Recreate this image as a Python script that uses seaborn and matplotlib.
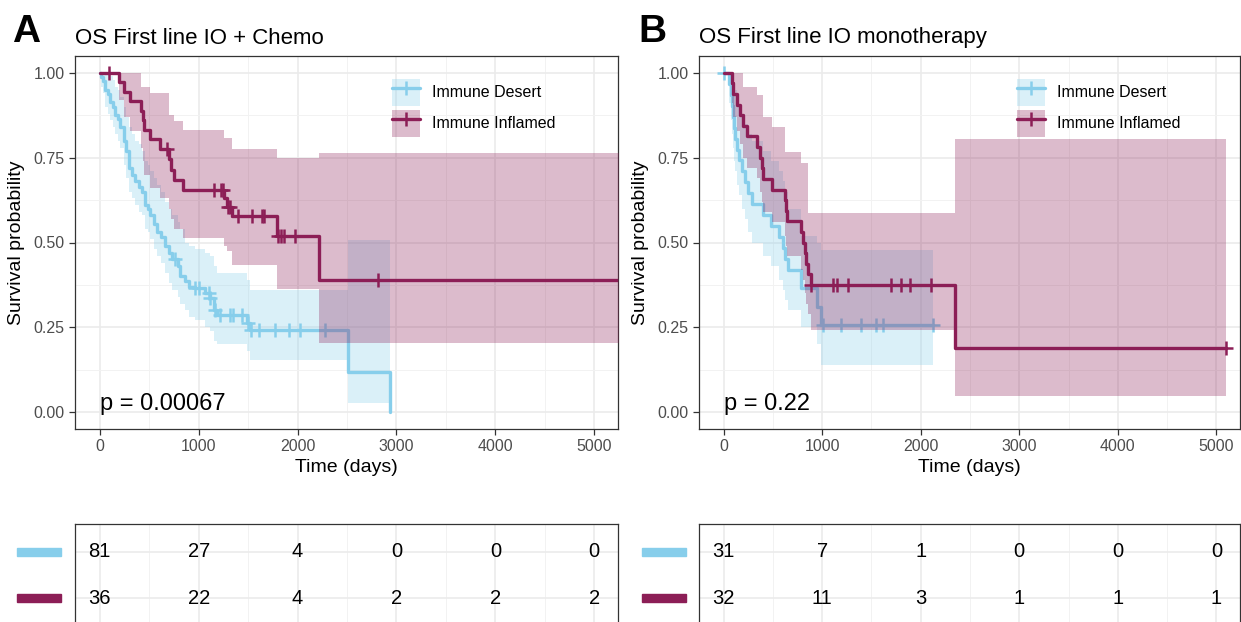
import numpy as np
import matplotlib
matplotlib.use("Agg")
import matplotlib.pyplot as plt
import matplotlib.transforms as mtransforms
from matplotlib.patches import Patch, Rectangle
from matplotlib.lines import Line2D
import seaborn as sns

sns.set_theme(style="white")
plt.rcParams['font.family'] = ['Liberation Sans', 'DejaVu Sans']
plt.rcParams['text.color'] = 'black'
plt.rcParams['axes.labelcolor'] = 'black'

c_des = '#87CEEB'
c_inf = '#8C1E56'
groups = ['Immune Desert', 'Immune Inflamed']

# ---- Panel A : OS First line IO + Chemo ----
a_des_t = [0, 17, 35, 58, 80, 108, 130, 158, 185, 209, 243, 270, 293, 330, 361, 395, 428, 461, 490, 512,
           545, 579, 620, 663, 700, 731, 790, 815, 860, 899, 967, 1068, 1118, 1152, 1186, 1488, 1522, 2515, 2936]
a_des_s = [1.0, .988, .975, .951, .938, .914, .901, .877, .864, .840, .800, .770, .720, .700, .680, .665, .650, .610, .598, .580,
           .556, .530, .515, .490, .470, .450, .430, .400, .385, .370, .366, .351, .336, .302, .287, .262, .243, .117, 0.0]
a_des_hi = [1.0, 1.0, 1.0, 1.0, 1.0, .99, .98, .96, .95, .93, .90, .87, .84, .82, .80, .79, .77, .74, .73, .71,
            .69, .67, .65, .62, .60, .58, .56, .54, .50, .49, .48, .47, .46, .43, .41, .39, .36, .508, .508]
a_des_lo = [1.0, .96, .94, .90, .88, .86, .84, .82, .80, .78, .73, .69, .65, .63, .61, .59, .58, .54, .53, .51,
            .48, .46, .44, .41, .38, .36, .34, .32, .30, .28, .27, .25, .24, .21, .20, .18, .154, .028, .028]
a_des_end = 2936
a_des_cens = [765, 967, 1000, 1101, 1118, 1169, 1219, 1320, 1344, 1438, 1499, 1530, 1606, 1775, 1910, 2027, 2280]

a_inf_t = [0, 192, 243, 310, 420, 440, 450, 512, 613, 700, 720, 750, 840, 1253, 1287, 1337, 1791, 2212]
a_inf_s = [1.0, .972, .944, .917, .889, .861, .833, .806, .776, .745, .714, .684, .655, .631, .606, .579, .520, .390]
a_inf_hi = [1.0, 1.0, 1.0, 1.0, .96, .96, .96, .94, .94, .877, .877, .857, .832, .808, .808, .776, .749, .764]
a_inf_lo = [1.0, .92, .87, .83, .78, .74, .70, .66, .63, .60, .57, .54, .513, .49, .474, .434, .363, .203]
a_inf_end = 5600
a_inf_cens = [98, 680, 1152, 1230, 1242, 1300, 1320, 1398, 1539, 1640, 1657, 1802, 1830, 1860, 1977, 2812]

a_pval = 'p = 0.00067'
a_risk_des = [81, 27, 4, 0, 0, 0]
a_risk_inf = [36, 22, 4, 2, 2, 2]

# ---- Panel B : OS First line IO monotherapy ----
b_des_t = [0, 50, 70, 85, 97, 108, 120, 135, 155, 190, 215, 245, 290, 400, 480, 560, 600, 625, 651, 786, 950, 991]
b_des_s = [1.0, .968, .935, .903, .871, .839, .806, .774, .742, .710, .677, .645, .613, .581, .548, .516, .484, .452, .419, .366, .310, .256]
b_des_hi = [1.0, 1.0, 1.0, 1.0, .99, .97, .95, .93, .90, .88, .85, .82, .80, .77, .74, .71, .68, .65, .60, .52, .50, .479]
b_des_lo = [1.0, .91, .86, .82, .78, .74, .71, .67, .64, .60, .57, .53, .50, .46, .43, .39, .36, .33, .30, .25, .20, .14]
b_des_end = 2122
b_des_cens = [5, 1005, 1191, 1394, 1546, 1614, 2122]

b_inf_t = [0, 82, 99, 133, 167, 201, 235, 336, 370, 390, 403, 488, 623, 630, 640, 788, 803, 822, 837, 854, 888, 2343]
b_inf_s = [1.0, .969, .938, .906, .875, .844, .813, .781, .750, .719, .688, .656, .625, .594, .563, .531, .500, .469, .438, .406, .375, .1875]
b_inf_hi = [1.0, 1.0, 1.0, 1.0, 1.0, .96, .96, .935, .935, .935, .871, .842, .768, .768, .768, .734, .734, .734, .734, .586, .586, .805]
b_inf_lo = [1.0, .91, .87, .83, .79, .75, .72, .69, .65, .62, .59, .56, .52, .49, .46, .42, .39, .35, .32, .29, .243, .046]
b_inf_end = 5100
b_inf_cens = [888, 1108, 1152, 1260, 1701, 1796, 1887, 2107, 5100]

b_pval = 'p = 0.22'
b_risk_des = [31, 7, 1, 0, 0, 0]
b_risk_inf = [32, 11, 3, 1, 1, 1]

x_ticks = [0, 1000, 2000, 3000, 4000, 5000]
y_ticks = [0.0, 0.25, 0.5, 0.75, 1.0]


def km_curve(ax, t, s, lo, hi, t_end, cens, col, z):
    x = np.r_[t, t_end]
    ax.fill_between(x, np.r_[lo, lo[-1]], np.r_[hi, hi[-1]], step='post',
                    color=col, alpha=0.3, lw=0, zorder=z)
    sns.lineplot(x=x, y=np.r_[s, s[-1]], drawstyle='steps-post', color=col,
                 linewidth=2.4, estimator=None, sort=False, ax=ax, zorder=z + 1)
    yc = np.array(s)[np.searchsorted(t, cens, side='right') - 1]
    ax.plot(cens, yc, ls='none', marker='+', ms=10, mew=1.8, color=col, zorder=z + 1)


def grid_style(ax):
    ax.set_xlim(-250, 5240)
    ax.set_xticks(x_ticks)
    ax.set_xticks([500, 1500, 2500, 3500, 4500], minor=True)
    ax.grid(which='major', color='#EBEBEB', lw=1.2)
    ax.grid(which='minor', color='#F2F2F2', lw=0.7)
    ax.set_axisbelow(True)
    for sp in ax.spines.values():
        sp.set_visible(True)
        sp.set_color('#333333')
        sp.set_linewidth(0.9)
    ax.tick_params(which='minor', length=0)


def panel(ax, title, curves, pval, lx):
    for i, c in enumerate(curves):
        km_curve(ax, *c, z=2 + 2 * i)
    grid_style(ax)
    ax.set_ylim(-0.05, 1.05)
    ax.set_yticks(y_ticks)
    ax.set_yticks([0.125, 0.375, 0.625, 0.875], minor=True)
    ax.set_yticklabels(['%.2f' % v for v in y_ticks])
    ax.tick_params(which='major', length=4, width=0.9, color='#333333',
                   labelcolor='#4D4D4D', labelsize=11.5, bottom=True, left=True)
    ax.set_xlabel('Time (days)', fontsize=14, labelpad=3)
    ax.set_ylabel('Survival probability', fontsize=14, labelpad=6)
    ax.set_title(title, loc='left', fontsize=16, pad=9, color='black')
    ax.text(0, 0.005, pval, fontsize=17, ha='left', va='baseline')
    handles = [(Patch(facecolor=col, alpha=0.3, edgecolor='none'),
                Line2D([], [], color=col, lw=2.4, marker='+', ms=10, mew=1.8))
               for col in (c_des, c_inf)]
    ax.legend(handles, groups, loc='upper left', bbox_to_anchor=(lx, 0.938),
              frameon=False, fontsize=11.5, handlelength=1.75, handleheight=2.2,
              handletextpad=0.75, labelspacing=0.25, borderpad=0, borderaxespad=0)


def risk_table(fig, ax, left_px, rows):
    grid_style(ax)
    ax.set_ylim(0.4, 2.6)
    ax.set_yticks([1, 2])
    ax.set_xticklabels([])
    ax.set_yticklabels([])
    ax.tick_params(which='both', length=0)
    tr = mtransforms.blended_transform_factory(fig.transFigure, ax.transData)
    for yrow, vals, col in rows:
        for xt, v in zip(x_ticks, vals):
            ax.text(xt, yrow, str(v), ha='center', va='center', fontsize=14.5)
        ax.add_patch(Rectangle((left_px / 1241, yrow - 0.09), 44 / 1241, 0.18,
                               transform=tr, color=col, clip_on=False))


W, H = 1241, 622
fig = plt.figure(figsize=(W / 100, H / 100), dpi=100)
axA = fig.add_axes([75 / W, 1 - 429 / H, 543 / W, 373 / H])
axB = fig.add_axes([699 / W, 1 - 429 / H, 541 / W, 373 / H])
tA = fig.add_axes([75 / W, 1 - 626 / H, 543 / W, 102 / H])
tB = fig.add_axes([699 / W, 1 - 626 / H, 541 / W, 102 / H])

panel(axA, 'OS First line IO + Chemo',
      [(a_des_t, a_des_s, a_des_lo, a_des_hi, a_des_end, a_des_cens, c_des),
       (a_inf_t, a_inf_s, a_inf_lo, a_inf_hi, a_inf_end, a_inf_cens, c_inf)],
      a_pval, 0.584)
panel(axB, 'OS First line IO monotherapy',
      [(b_des_t, b_des_s, b_des_lo, b_des_hi, b_des_end, b_des_cens, c_des),
       (b_inf_t, b_inf_s, b_inf_lo, b_inf_hi, b_inf_end, b_inf_cens, c_inf)],
      b_pval, 0.588)

risk_table(fig, tA, 17, [(2, a_risk_des, c_des), (1, a_risk_inf, c_inf)])
risk_table(fig, tB, 642, [(2, b_risk_des, c_des), (1, b_risk_inf, c_inf)])

fig.text(12 / W, 1 - 42 / H, 'A', fontsize=28, fontweight='bold', va='baseline', color='black')
fig.text(638 / W, 1 - 42 / H, 'B', fontsize=28, fontweight='bold', va='baseline', color='black')

fig.savefig('out.png', dpi=100)
